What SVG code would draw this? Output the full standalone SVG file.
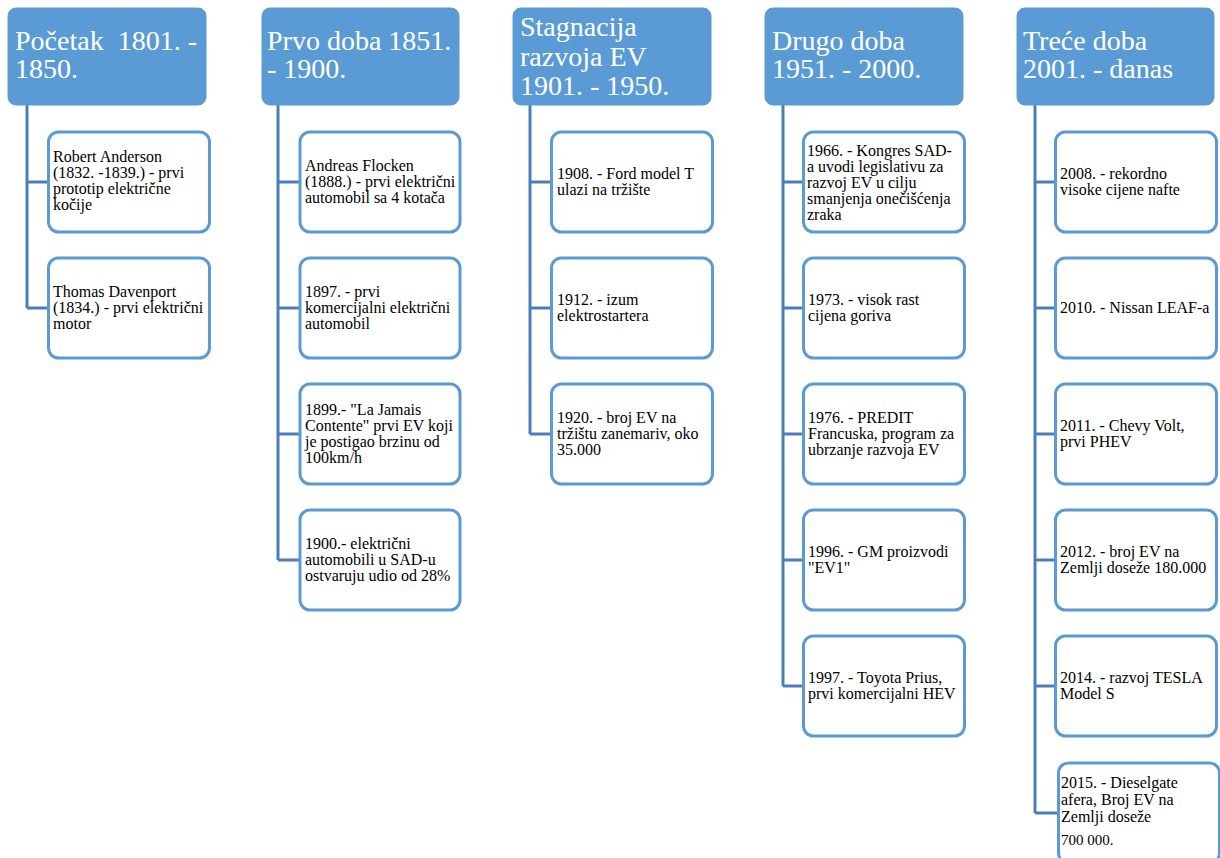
<svg xmlns="http://www.w3.org/2000/svg" width="1220" height="858" viewBox="0 0 1220 858">
<style>
.hdr{fill:#5b9bd5;stroke:#5b9bd5;stroke-width:1}
.htxt{font-family:"Liberation Serif","Times New Roman",serif;font-size:28px;fill:#ffffff}
.box{fill:#ffffff;stroke:#5b9bd5;stroke-width:3}
.btxt{font-family:"Liberation Serif","Times New Roman",serif;font-size:16px;fill:#000000}
.conn{fill:none;stroke:#4a7ebb;stroke-width:3}
</style>
<rect width="1220" height="858" fill="#ffffff"/>
<g id="connectors">
<path class="conn" d="M27,105 V308 M27,182 H48 M27,308 H48"/>
<path class="conn" d="M278,105 V560 M278,182 H300 M278,308 H300 M278,434 H300 M278,560 H300"/>
<path class="conn" d="M530,105 V434 M530,182 H551 M530,308 H551 M530,434 H551"/>
<path class="conn" d="M783,105 V686 M783,182 H803 M783,308 H803 M783,434 H803 M783,560 H803 M783,686 H803"/>
<path class="conn" d="M1035,105 V813 M1035,182 H1055 M1035,308 H1055 M1035,434 H1055 M1035,560 H1055 M1035,686 H1055 M1035,813 H1058"/>
</g>
<g id="h1"><rect class="hdr" x="8" y="8" width="198" height="97" rx="8"/>
<text class="htxt" x="15" y="50">Početak&#160; 1801. -</text><text class="htxt" x="15" y="78">1850.</text></g>
<g id="h2"><rect class="hdr" x="262" y="8" width="197" height="97" rx="8"/>
<text class="htxt" x="267" y="50">Prvo doba 1851.</text><text class="htxt" x="267" y="78">- 1900.</text></g>
<g id="h3"><rect class="hdr" x="513" y="8" width="198" height="97" rx="8"/>
<text class="htxt" x="520" y="36">Stagnacija</text><text class="htxt" x="520" y="65.5">razvoja EV</text><text class="htxt" x="520" y="95">1901. - 1950.</text></g>
<g id="h4"><rect class="hdr" x="765" y="8" width="198" height="97" rx="8"/>
<text class="htxt" x="772" y="50">Drugo doba</text><text class="htxt" x="772" y="78">1951. - 2000.</text></g>
<g id="h5"><rect class="hdr" x="1017" y="8" width="197" height="97" rx="8"/>
<text class="htxt" x="1023" y="50">Treće doba</text><text class="htxt" x="1023" y="78">2001. - danas</text></g>

<g id="c1b1"><rect class="box" x="48.5" y="132" width="161" height="100" rx="10"/>
<text class="btxt" x="53" y="162">Robert Anderson</text><text class="btxt" x="53" y="178">(1832. -1839.) - prvi</text><text class="btxt" x="53" y="194">prototip električne</text><text class="btxt" x="53" y="210">kočije</text></g>
<g id="c1b2"><rect class="box" x="48.5" y="258" width="161" height="100" rx="10"/>
<text class="btxt" x="53" y="297">Thomas Davenport</text><text class="btxt" x="53" y="313">(1834.) - prvi električni</text><text class="btxt" x="53" y="329">motor</text></g>

<g id="c2b1"><rect class="box" x="300" y="132" width="160" height="100" rx="10"/>
<text class="btxt" x="305" y="171">Andreas Flocken</text><text class="btxt" x="305" y="187">(1888.) - prvi električni</text><text class="btxt" x="305" y="203">automobil sa 4 kotača</text></g>
<g id="c2b2"><rect class="box" x="300" y="258" width="160" height="100" rx="10"/>
<text class="btxt" x="305" y="297">1897. - prvi</text><text class="btxt" x="305" y="313">komercijalni električni</text><text class="btxt" x="305" y="329">automobil</text></g>
<g id="c2b3"><rect class="box" x="300" y="384" width="160" height="100" rx="10"/>
<text class="btxt" x="305" y="415">1899.- "La Jamais</text><text class="btxt" x="305" y="431">Contente" prvi EV koji</text><text class="btxt" x="305" y="447">je postigao brzinu od</text><text class="btxt" x="305" y="463">100km/h</text></g>
<g id="c2b4"><rect class="box" x="300" y="510" width="160" height="100" rx="10"/>
<text class="btxt" x="305" y="549">1900.- električni</text><text class="btxt" x="305" y="565">automobili u SAD-u</text><text class="btxt" x="305" y="581">ostvaruju udio od 28%</text></g>

<g id="c3b1"><rect class="box" x="551.5" y="132" width="161" height="100" rx="10"/>
<text class="btxt" x="557" y="179">1908. - Ford model T</text><text class="btxt" x="557" y="195">ulazi na tržište</text></g>
<g id="c3b2"><rect class="box" x="551.5" y="258" width="161" height="100" rx="10"/>
<text class="btxt" x="557" y="305">1912. - izum</text><text class="btxt" x="557" y="321">elektrostartera</text></g>
<g id="c3b3"><rect class="box" x="551.5" y="384" width="161" height="100" rx="10"/>
<text class="btxt" x="557" y="423">1920. - broj EV na</text><text class="btxt" x="557" y="439">tržištu zanemariv, oko</text><text class="btxt" x="557" y="455">35.000</text></g>

<g id="c4b1"><rect class="box" x="803.5" y="132" width="161" height="100" rx="10"/>
<text class="btxt" x="807" y="156">1966. - Kongres SAD-</text><text class="btxt" x="807" y="172">a uvodi legislativu za</text><text class="btxt" x="807" y="188">razvoj EV u cilju</text><text class="btxt" x="807" y="204">smanjenja onečišćenja</text><text class="btxt" x="807" y="220">zraka</text></g>
<g id="c4b2"><rect class="box" x="803.5" y="258" width="161" height="100" rx="10"/>
<text class="btxt" x="808" y="305">1973. - visok rast</text><text class="btxt" x="808" y="321">cijena goriva</text></g>
<g id="c4b3"><rect class="box" x="803.5" y="384" width="161" height="100" rx="10"/>
<text class="btxt" x="808" y="423">1976. - PREDIT</text><text class="btxt" x="808" y="439">Francuska, program za</text><text class="btxt" x="808" y="455">ubrzanje razvoja EV</text></g>
<g id="c4b4"><rect class="box" x="803.5" y="510" width="161" height="100" rx="10"/>
<text class="btxt" x="808" y="557">1996. - GM proizvodi</text><text class="btxt" x="808" y="573">"EV1"</text></g>
<g id="c4b5"><rect class="box" x="803.5" y="636" width="161" height="100" rx="10"/>
<text class="btxt" x="808" y="683">1997. - Toyota Prius,</text><text class="btxt" x="808" y="699">prvi komercijalni HEV</text></g>

<g id="c5b1"><rect class="box" x="1055.5" y="132" width="161" height="100" rx="10"/>
<text class="btxt" x="1060" y="179">2008. - rekordno</text><text class="btxt" x="1060" y="195">visoke cijene nafte</text></g>
<g id="c5b2"><rect class="box" x="1055.5" y="258" width="161" height="100" rx="10"/>
<text class="btxt" x="1060" y="313">2010. - Nissan LEAF-a</text></g>
<g id="c5b3"><rect class="box" x="1055.5" y="384" width="161" height="100" rx="10"/>
<text class="btxt" x="1060" y="431">2011. - Chevy Volt,</text><text class="btxt" x="1060" y="447">prvi PHEV</text></g>
<g id="c5b4"><rect class="box" x="1055.5" y="510" width="161" height="100" rx="10"/>
<text class="btxt" x="1060" y="557">2012. - broj EV na</text><text class="btxt" x="1060" y="573">Zemlji doseže 180.000</text></g>
<g id="c5b5"><rect class="box" x="1055.5" y="636" width="161" height="100" rx="10"/>
<text class="btxt" x="1060" y="683">2014. - razvoj TESLA</text><text class="btxt" x="1060" y="699">Model S</text></g>
<g id="c5b6"><rect class="box" x="1058.5" y="763" width="161" height="100" rx="10"/>
<text class="btxt" x="1061" y="788">2015. - Dieselgate</text><text class="btxt" x="1061" y="805">afera, Broj EV na</text><text class="btxt" x="1061" y="822">Zemlji doseže</text><text class="btxt" x="1061" y="845" style="font-size:15px">700 000.</text></g>
</svg>
